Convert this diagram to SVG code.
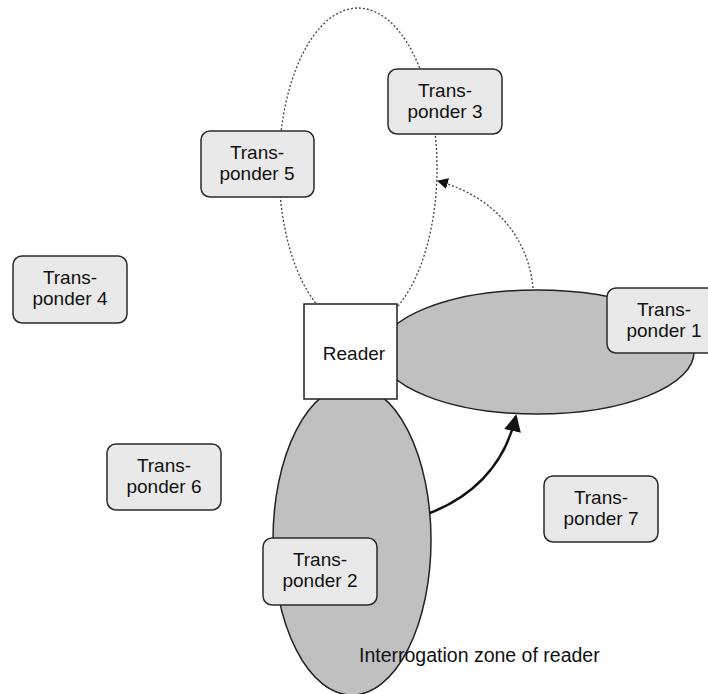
<svg xmlns="http://www.w3.org/2000/svg" width="708" height="694" viewBox="0 0 708 694">
<style>
  text { font-family: "Liberation Sans", Arial, sans-serif; font-size: 19px; fill: #111; }
  .tp rect { fill: #e9e9e9; stroke: #2a2a2a; stroke-width: 1.5; }
  .zone { fill: #c0c0c0; stroke: #222; stroke-width: 1.5; }
  .dot { fill: none; stroke: #444; stroke-width: 1.3; stroke-dasharray: 2 2; }
</style>
<defs>
  <marker id="ahSmall" viewBox="0 0 10 10" refX="9" refY="5" markerWidth="11" markerHeight="11" markerUnits="userSpaceOnUse" orient="auto">
    <path d="M0,0 L10,5 L0,10 z" fill="#111"/>
  </marker>
  <marker id="ahBig" viewBox="0 0 10 10" refX="9" refY="5" markerWidth="17" markerHeight="17" markerUnits="userSpaceOnUse" orient="auto">
    <path d="M0,0 L10,5 L0,10 z" fill="#111"/>
  </marker>
</defs>
<rect width="708" height="694" fill="#fff"/>
<g id="zones">
  <ellipse id="zone-dotted" class="dot" cx="358" cy="168" rx="79" ry="160"/>
  <ellipse id="zone-1" class="zone" cx="537" cy="352" rx="157" ry="62"/>
  <ellipse id="zone-2" class="zone" cx="352" cy="540" rx="79" ry="155"/>
</g>
<g id="reader">
  <rect x="304" y="304" width="93" height="95" fill="#fff" stroke="#222" stroke-width="1.5"/>
  <text x="354" y="360" text-anchor="middle">Reader</text>
</g>
<g id="connectors">
  <path class="dot" d="M533,288 C528,235 492,196 438,181" marker-end="url(#ahSmall)"/>
  <path d="M430,513 Q500,485 516,416" fill="none" stroke="#111" stroke-width="2.5" marker-end="url(#ahBig)"/>
</g>
<g id="transponder-3" class="tp">
  <rect x="388" y="69" width="114" height="65" rx="9"/>
  <text x="445" y="97" text-anchor="middle">Trans-</text>
  <text x="445" y="118" text-anchor="middle">ponder 3</text>
</g>
<g id="transponder-5" class="tp">
  <rect x="201" y="131" width="113" height="66" rx="9"/>
  <text x="257" y="159" text-anchor="middle">Trans-</text>
  <text x="257" y="180" text-anchor="middle">ponder 5</text>
</g>
<g id="transponder-4" class="tp">
  <rect x="13" y="256" width="114" height="67" rx="9"/>
  <text x="70" y="284" text-anchor="middle">Trans-</text>
  <text x="70" y="305" text-anchor="middle">ponder 4</text>
</g>
<g id="transponder-1" class="tp">
  <rect x="607" y="288" width="114" height="65" rx="9"/>
  <text x="664" y="316" text-anchor="middle">Trans-</text>
  <text x="664" y="337" text-anchor="middle">ponder 1</text>
</g>
<g id="transponder-6" class="tp">
  <rect x="107" y="444" width="114" height="66" rx="9"/>
  <text x="164" y="472" text-anchor="middle">Trans-</text>
  <text x="164" y="493" text-anchor="middle">ponder 6</text>
</g>
<g id="transponder-7" class="tp">
  <rect x="544" y="476" width="114" height="66" rx="9"/>
  <text x="601" y="504" text-anchor="middle">Trans-</text>
  <text x="601" y="525" text-anchor="middle">ponder 7</text>
</g>
<g id="transponder-2" class="tp">
  <rect x="263" y="538" width="114" height="67" rx="9"/>
  <text x="320" y="566" text-anchor="middle">Trans-</text>
  <text x="320" y="587" text-anchor="middle">ponder 2</text>
</g>
<g id="label">
  <text x="359" y="662" style="font-size:19.5px">Interrogation zone of reader</text>
</g>
</svg>
